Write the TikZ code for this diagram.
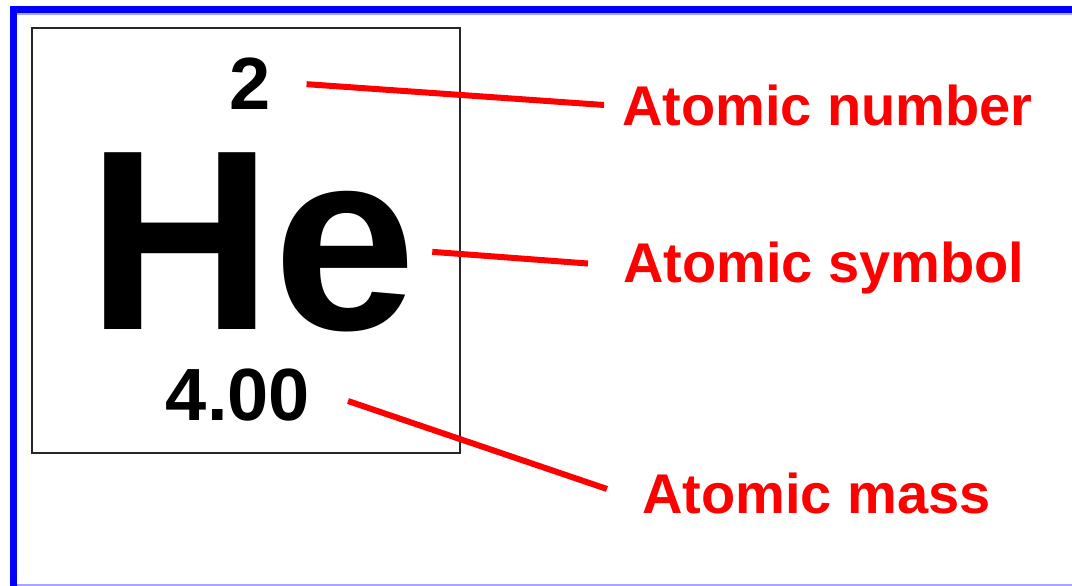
\documentclass[tikz,border=0pt]{standalone}
\usepackage{fontspec}
\setmainfont{Liberation Sans}
\usetikzlibrary{positioning}

\begin{document}
\begin{tikzpicture}[
  x=1pt, y=-1pt,
  every node/.style={inner sep=0pt, outer sep=0pt, anchor=base},
  numtext/.style={font=\fontsize{74}{74}\selectfont\bfseries},
  symtext/.style={font=\fontsize{257}{257}\selectfont\bfseries},
  label/.style={font=\fontsize{56}{56}\selectfont\bfseries, text=red, anchor=base west},
  pointer/.style={draw=red, line width=6pt}
  ]

  \useasboundingbox (0,0) rectangle (1072,586);

  % frame
  \fill[blue] (10,6) rectangle (1072,13);
  \fill[blue] (10,6) rectangle (17,586);
  \draw[blue!35, line width=1.5pt] (17,14) -- (1072,14);
  \draw[blue!35, line width=1.5pt] (17,585) -- (1072,585);
  \draw[black!85, line width=2pt] (32,28) rectangle (460,453);

  % element box
  \node[numtext] (num) at (250,110) {2};
  \node[symtext] (sym) at (252,329) {He};
  \node[numtext] (mass) at (238,420) {4.00};

  % labels
  \node[label] (lnum) at (622,125) {Atomic number};
  \node[label] (lsym) at (623,282) {Atomic symbol};
  \node[label] (lmass) at (642,513) {Atomic mass};

  \draw[pointer] ([shift={(36,0)}]num.east) -- ([shift={(-18,0)}]lnum.west);
  \draw[pointer] ([shift={(16,10)}]sym.east) -- ([shift={(-35,-4)}]lsym.west);
  \draw[pointer] ([shift={(38,6.5)}]mass.east) -- ([shift={(-35,-4)}]lmass.west);

\end{tikzpicture}
\end{document}
